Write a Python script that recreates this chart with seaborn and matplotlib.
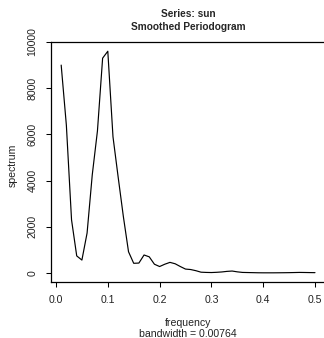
import matplotlib
matplotlib.use("Agg")
import matplotlib.pyplot as plt
import seaborn as sns
import pandas as pd

# Data
frequency = [0.01, 0.02, 0.03, 0.04, 0.05, 0.06, 0.07, 0.08, 0.09, 0.10,
             0.11, 0.12, 0.13, 0.14, 0.15, 0.16, 0.17, 0.18, 0.19, 0.20,
             0.21, 0.22, 0.23, 0.24, 0.25, 0.26, 0.27, 0.28, 0.29, 0.30,
             0.31, 0.32, 0.33, 0.34, 0.35, 0.36, 0.37, 0.38, 0.39, 0.40,
             0.41, 0.42, 0.43, 0.44, 0.45, 0.46, 0.47, 0.48, 0.49, 0.50]
spectrum = [9000, 6400, 2300, 740, 560, 1730, 4250, 6150, 9300, 9600,
            5900, 4150, 2450, 920, 420, 430, 780, 700, 380, 280,
            380, 460, 400, 280, 170, 150, 100, 35, 25, 20,
            30, 45, 70, 85, 50, 25, 20, 15, 10, 8,
            8, 8, 10, 12, 15, 20, 25, 22, 18, 15]
x_ticks = [0.0, 0.1, 0.2, 0.3, 0.4, 0.5]
x_tick_labels = ["0.0", "0.1", "0.2", "0.3", "0.4", "0.5"]
y_ticks = [0, 2000, 4000, 6000, 8000, 10000]
y_tick_labels = ["0", "2000", "4000", "6000", "8000", "10000"]
title_lines = ["Series: sun", "Smoothed Periodogram"]
x_label = "frequency"
sub_label = "bandwidth = 0.00764"
y_label = "spectrum"

df = pd.DataFrame({"frequency": frequency, "spectrum": spectrum})

sns.set_style("white")
plt.rcParams["font.family"] = ["Liberation Sans", "DejaVu Sans"]

W, H = 324, 338
fig = plt.figure(figsize=(W / 100, H / 100), dpi=100)
ax = fig.add_axes([51 / W, (H - 282) / H, (325 - 51) / W, (282 - 42) / H])

sns.lineplot(data=df, x="frequency", y="spectrum", ax=ax, color="black",
             linewidth=0.85, estimator=None)

ax.set_xlim(-5 / 518, 0.5 + 10 / 518)
ax.set_ylim(-9 / 0.0231, 10000)
ax.set_xticks(x_ticks)
ax.set_xticklabels(x_tick_labels)
ax.set_yticks(y_ticks)
ax.set_yticklabels(y_tick_labels, rotation=90, va="center")
ax.set_xlabel("")
ax.set_ylabel("")

for s in ax.spines.values():
    s.set_color("black")
    s.set_linewidth(0.9)
ax.spines["right"].set_visible(False)

ax.tick_params(axis="both", direction="out", length=3.6, width=0.75,
               color="black", labelsize=7.6, labelcolor="#222222",
               bottom=True, left=True)
ax.tick_params(axis="x", pad=5.5)
ax.tick_params(axis="y", pad=6)

fig.text(188 / W, 1 - 14 / H, title_lines[0], ha="center", va="center",
         fontsize=7.3, fontweight="bold")
fig.text(188 / W, 1 - 27 / H, title_lines[1], ha="center", va="center",
         fontsize=7.3, fontweight="bold")
fig.text(188 / W, 1 - 323 / H, x_label, ha="center", va="center", fontsize=7.6,
         color="#222222")
fig.text(188 / W, 1 - 334 / H, sub_label, ha="center", va="center", fontsize=7.6,
         color="#222222")
fig.text(13 / W, 1 - 165 / H, y_label, ha="center", va="center", fontsize=7.6,
         rotation=90, color="#222222")

fig.savefig("out.png", dpi=100)
